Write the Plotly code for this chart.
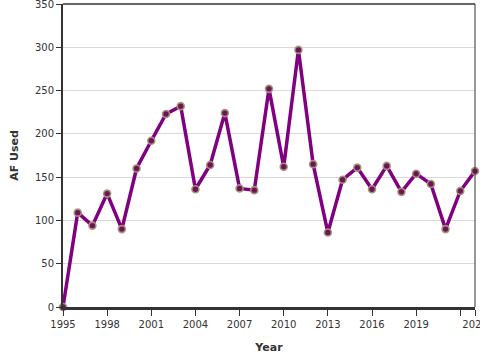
import plotly.graph_objects as go

years = list(range(1995, 2024))
af_used = [0, 109, 94, 131, 90, 160, 192, 223, 232, 136, 164, 224, 137, 135, 252,
           162, 297, 165, 86, 147, 161, 136, 163, 133, 154, 142, 90, 134, 157]

tick_vals = [1995, 1998, 2001, 2004, 2007, 2010, 2013, 2016, 2019, 2022, 2023]
tick_text = ["1995", "1998", "2001", "2004", "2007", "2010", "2013", "2016", "2019", "", "2023"]
y_ticks = [0, 50, 100, 150, 200, 250, 300, 350]

fig = go.Figure()
fig.add_trace(go.Scatter(
    x=years, y=af_used, mode="lines+markers",
    line=dict(color="#800080", width=3.5),
    marker=dict(color="#6e1458", size=7, line=dict(color="rgba(165,150,120,0.95)", width=1.6)),
    cliponaxis=False, hoverinfo="x+y", showlegend=False,
))

fig.update_layout(
    width=480, height=360,
    margin=dict(l=63, r=5, t=4, b=53),
    paper_bgcolor="white", plot_bgcolor="white",
    font=dict(family="DejaVu Sans", size=10, color="#333333"),
    xaxis=dict(
        range=[1995, 2023], tickmode="array", tickvals=tick_vals, ticktext=tick_text,
        automargin=False, ticklabeloverflow="allow",
        showgrid=False, zeroline=False, showline=True, linecolor="#333333", linewidth=3,
        ticks="outside", ticklen=6, tickcolor="#333333", tickwidth=1,
        title=dict(text="<b>Year</b>", font=dict(size=11, color="#333333"), standoff=15),
    ),
    yaxis=dict(
        range=[0, 350], tickmode="array", tickvals=y_ticks,
        automargin=False, ticklabeloverflow="allow",
        showgrid=True, gridcolor="#d9d9d9", gridwidth=1, zeroline=False,
        showline=True, linecolor="#333333", linewidth=2,
        ticks="outside", ticklen=5, tickcolor="#333333", tickwidth=1,
        title=dict(text="<b>AF Used</b>", font=dict(size=11, color="#333333"), standoff=14),
    ),
)
fig.add_shape(type="line", xref="paper", yref="paper", x0=0, x1=1, y0=1, y1=1,
              line=dict(color="#333333", width=1.5), layer="above")
fig.add_shape(type="line", xref="paper", yref="paper", x0=1, x1=1, y0=0, y1=1,
              line=dict(color="#333333", width=1), layer="above")

fig.write_html("out.html", config={"displayModeBar": False},
               post_script="document.body.style.margin='0';")
